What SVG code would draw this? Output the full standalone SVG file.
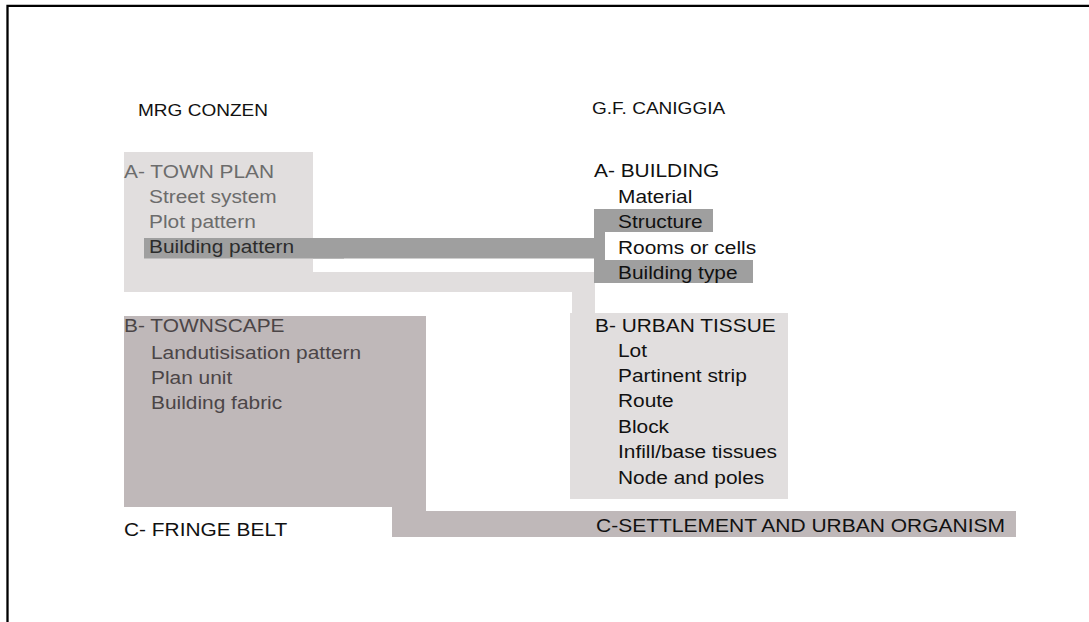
<svg xmlns="http://www.w3.org/2000/svg" width="1089" height="622" viewBox="0 0 1089 622">
  <style>
    text { font-family: "Liberation Sans", Arial, sans-serif; font-size: 18.5px; }
    .head { font-size: 17px; fill: #111; }
    .ink { fill: #111; }
    .soft { fill: #6c6c6c; }
    .deep { fill: #2c2c2c; }
    .mauve { fill: #4b4547; }
    .pale { fill: #e1dede; }
    .grey { fill: #9f9f9f; }
    .rose { fill: #bfb8b9; }
  </style>

  <!-- frame -->
  <path d="M7.5 622 V5.8 H1089" fill="none" stroke="#000" stroke-width="2.3"/>

  <!-- column headings -->
  <g id="heading-conzen">
    <text class="head" transform="translate(138 116) scale(1.12 1)">MRG CONZEN</text>
  </g>
  <g id="heading-caniggia">
    <text class="head" transform="translate(592 114) scale(1.12 1)">G.F. CANIGGIA</text>
  </g>

  <!-- bands linking the two columns -->
  <g id="connectors">
    <!-- town plan to urban tissue -->
    <path class="pale" d="M124 272 H595 V316 H572 V292 H124 Z"/>
    <!-- townscape to settlement and urban organism -->
    <path class="rose" d="M392 505 H426 V511 H1016 V537 H392 Z"/>
    <!-- building pattern to building -->
    <rect class="grey" x="144" y="238" width="461" height="20.5"/>
  </g>

  <g id="town-plan">
    <rect class="pale" x="124" y="152" width="189" height="125"/>
    <rect class="grey" x="144" y="238" width="200" height="20.5"/>
    <text class="soft" transform="translate(124 178) scale(1.13 1)">A- TOWN PLAN</text>
    <text class="soft" transform="translate(149 203) scale(1.13 1)">Street system</text>
    <text class="soft" transform="translate(149 228) scale(1.13 1)">Plot pattern</text>
    <text class="deep" transform="translate(149 253) scale(1.13 1)">Building pattern</text>
  </g>

  <g id="building">
    <rect class="grey" x="594" y="209" width="11" height="74"/>
    <rect class="grey" x="594" y="209" width="119" height="23"/>
    <rect class="grey" x="594" y="260" width="159" height="23"/>
    <text class="ink" transform="translate(594 177) scale(1.13 1)">A- BUILDING</text>
    <text class="ink" transform="translate(618 203) scale(1.13 1)">Material</text>
    <text class="ink" transform="translate(618 228) scale(1.13 1)">Structure</text>
    <text class="ink" transform="translate(618 254) scale(1.13 1)">Rooms or cells</text>
    <text class="ink" transform="translate(618 279) scale(1.13 1)">Building type</text>
  </g>

  <g id="townscape">
    <rect class="rose" x="124" y="316" width="302" height="191"/>
    <text class="mauve" transform="translate(124 332) scale(1.13 1)">B- TOWNSCAPE</text>
    <text class="mauve" transform="translate(151 359) scale(1.13 1)">Landutisisation pattern</text>
    <text class="mauve" transform="translate(151 384) scale(1.13 1)">Plan unit</text>
    <text class="mauve" transform="translate(151 409) scale(1.13 1)">Building fabric</text>
  </g>

  <g id="urban-tissue">
    <rect class="pale" x="570" y="313" width="218" height="186"/>
    <text class="ink" transform="translate(595 332) scale(1.13 1)">B- URBAN TISSUE</text>
    <text class="ink" transform="translate(618 357) scale(1.13 1)">Lot</text>
    <text class="ink" transform="translate(618 382) scale(1.13 1)">Partinent strip</text>
    <text class="ink" transform="translate(618 407) scale(1.13 1)">Route</text>
    <text class="ink" transform="translate(618 433) scale(1.13 1)">Block</text>
    <text class="ink" transform="translate(618 458) scale(1.13 1)">Infill/base tissues</text>
    <text class="ink" transform="translate(618 484) scale(1.13 1)">Node and poles</text>
  </g>

  <g id="fringe-belt">
    <text class="ink" transform="translate(124 536) scale(1.13 1)">C- FRINGE BELT</text>
  </g>

  <g id="settlement">
    <text class="ink" transform="translate(596 532) scale(1.13 1)" textLength="362" lengthAdjust="spacingAndGlyphs">C-SETTLEMENT AND URBAN ORGANISM</text>
  </g>
</svg>
